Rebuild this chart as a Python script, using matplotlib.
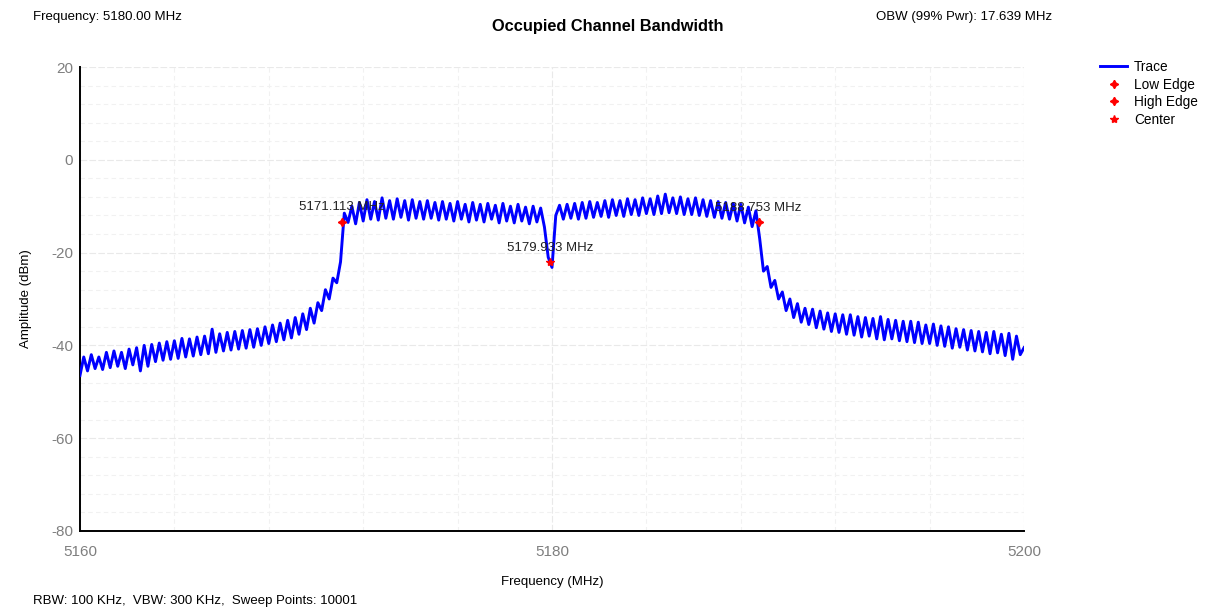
import numpy as np
import matplotlib
matplotlib.use("Agg")
import matplotlib.pyplot as plt
from matplotlib.ticker import MultipleLocator

plt.rcParams["font.family"] = ["Liberation Sans", "DejaVu Sans"]
plt.rcParams["axes.unicode_minus"] = False

# trace, one value every 0.16 MHz from 5160 to 5200
level_dbm = [
    -46.5, -42.5, -45.5, -42.0, -45.0, -42.5, -45.2, -41.5, -44.8, -41.2,
    -44.5, -41.5, -45.0, -40.8, -44.2, -40.5, -45.5, -40.0, -44.5, -39.8,
    -43.5, -39.5, -43.2, -39.2, -43.0, -39.0, -42.8, -38.5, -42.5, -38.6,
    -42.3, -38.2, -42.0, -38.0, -41.8, -36.5, -41.5, -37.5, -41.2, -37.2,
    -41.0, -37.0, -40.8, -36.8, -40.6, -36.6, -40.4, -36.4, -40.0, -36.0,
    -39.6, -35.6, -39.2, -35.2, -38.8, -34.6, -38.4, -34.0, -37.6, -33.2,
    -36.6, -32.0, -35.2, -30.8, -32.5, -28.0, -30.0, -25.5, -26.5, -22.0,
    -11.5, -13.5, -10.0, -13.8, -9.2, -13.2, -8.6, -12.8, -9.0, -13.0,
    -8.2, -12.6, -8.8, -12.8, -8.4, -12.4, -8.8, -13.0, -8.6, -12.6,
    -9.0, -12.8, -8.8, -12.6, -9.2, -13.0, -9.0, -12.8, -9.4, -13.2,
    -9.0, -12.8, -9.6, -13.4, -9.2, -13.0, -9.6, -13.4, -9.4, -12.8,
    -9.8, -13.6, -9.4, -13.2, -10.0, -13.6, -9.6, -13.2, -10.2, -13.8,
    -10.0, -13.4, -10.4, -14.5, -21.0, -23.2, -12.0, -9.8, -12.8, -9.6,
    -12.6, -9.4, -12.8, -9.2, -12.6, -9.0, -12.4, -9.2, -12.2, -8.8,
    -12.4, -8.6, -12.0, -8.8, -12.2, -8.4, -11.8, -8.6, -12.0, -8.2,
    -11.6, -8.4, -11.8, -7.8, -11.6, -7.4, -11.4, -8.2, -11.6, -8.0,
    -11.8, -8.4, -11.8, -8.2, -12.0, -8.6, -12.2, -8.8, -12.4, -9.0,
    -12.6, -9.2, -12.8, -9.4, -13.2, -9.6, -13.6, -10.2, -14.4, -11.0,
    -17.0, -24.0, -23.0, -27.5, -26.0, -30.0, -28.5, -32.5, -30.0, -34.0,
    -31.0, -35.0, -32.0, -35.5, -32.2, -36.2, -32.6, -36.5, -33.0, -37.0,
    -33.2, -37.2, -33.4, -37.6, -33.4, -37.8, -33.8, -38.2, -34.0, -38.0,
    -34.2, -38.6, -33.8, -38.8, -34.4, -38.6, -34.6, -39.0, -34.8, -39.2,
    -34.8, -39.4, -35.0, -39.6, -35.6, -39.6, -35.4, -40.0, -35.8, -40.2,
    -36.0, -40.6, -36.4, -40.4, -36.6, -41.0, -36.8, -41.2, -37.0, -41.4,
    -37.2, -41.8, -37.0, -41.6, -37.6, -42.2, -37.4, -43.0, -38.0, -42.0,
    -40.5,
]
freq_mhz = np.linspace(5160, 5200, len(level_dbm))

marker_names = ["Low Edge", "High Edge", "Center"]
marker_freq = [5171.113, 5188.753, 5179.933]
marker_dbm = [-13.3, -13.5, -22.0]

GRAY = "#7f7f7f"

fig = plt.figure(figsize=(12.08, 6.13), dpi=100)
ax = fig.add_axes([0.0662, 0.1338, 0.7815, 0.7569])

ax.plot(freq_mhz, level_dbm, color="#0000ff", lw=2.1, label="Trace", zorder=3)

star4 = (4, 1, 0)
for name, f, a in zip(marker_names, marker_freq, marker_dbm):
    m = "*" if name == "Center" else star4
    ax.plot([f], [a], ls="none", marker=m, ms=6, color="red", mec="red",
            label=name, zorder=4)
    ax.annotate(f"{f:.3f} MHz", (f, a), xytext=(0, 6), textcoords="offset points",
                ha="center", va="bottom", fontsize=9.5, color="#222222", zorder=5)

ax.set_xlim(5160, 5200)
ax.set_ylim(-80, 20)
ax.xaxis.set_major_locator(MultipleLocator(20))
ax.xaxis.set_minor_locator(MultipleLocator(4))
ax.yaxis.set_major_locator(MultipleLocator(20))
ax.yaxis.set_minor_locator(MultipleLocator(4))
ax.grid(which="minor", color="#f1f1f1", ls=(0, (4, 3)), lw=0.8)
ax.grid(which="major", color="#e9e9e9", ls=(0, (6, 2)), lw=0.8)
ax.set_axisbelow(True)
ax.tick_params(which="both", length=0, labelsize=11, labelcolor=GRAY)
ax.tick_params(axis="x", pad=10)
ax.tick_params(axis="y", pad=5)
for s in ("top", "right"):
    ax.spines[s].set_visible(False)
for s in ("left", "bottom"):
    ax.spines[s].set_linewidth(1.4)

ax.set_xlabel("Frequency (MHz)", fontsize=9.5, labelpad=12)
ax.set_ylabel("Amplitude (dBm)", fontsize=9.5, labelpad=14)

fig.text(0.503, 0.956, "Occupied Channel Bandwidth", ha="center", va="center",
         fontsize=11.8, fontweight="bold")
fig.text(0.027, 0.972, "Frequency: 5180.00 MHz", ha="left", va="center", fontsize=9.5)
fig.text(0.725, 0.972, "OBW (99% Pwr): 17.639 MHz", ha="left", va="center", fontsize=9.5)
fig.text(0.027, 0.019, "RBW: 100 KHz,  VBW: 300 KHz,  Sweep Points: 10001",
         ha="left", va="center", fontsize=9.5)

fig.legend(loc="upper left", bbox_to_anchor=(0.906, 0.911), frameon=False,
           fontsize=9.8, handlelength=2.0, handletextpad=0.5, labelspacing=0.26,
           borderaxespad=0)

fig.savefig("out.png", dpi=100)
